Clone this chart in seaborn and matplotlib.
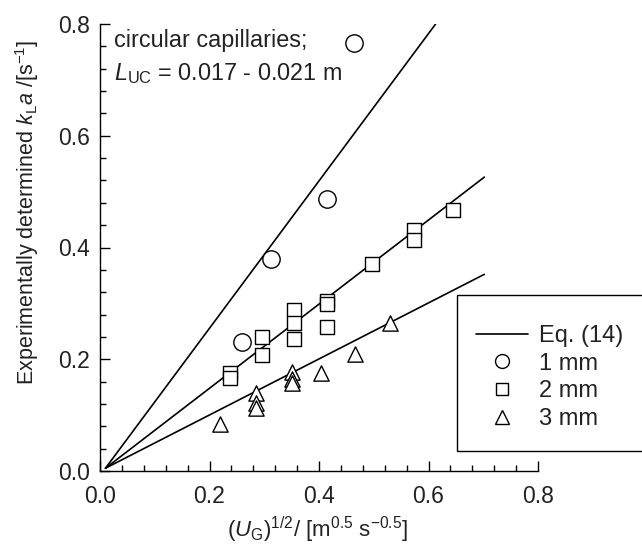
import numpy as np
import pandas as pd
import matplotlib
matplotlib.use("Agg")
import matplotlib.pyplot as plt
from matplotlib.lines import Line2D
from matplotlib.patches import Rectangle
from matplotlib.ticker import MultipleLocator
import seaborn as sns

# ---------------- data ----------------
x_1mm = [0.259, 0.312, 0.414, 0.464]
y_1mm = [0.230, 0.380, 0.487, 0.766]

x_2mm = [0.238, 0.238, 0.295, 0.295, 0.354, 0.354, 0.354, 0.415, 0.415, 0.415, 0.497, 0.573, 0.573, 0.645]
y_2mm = [0.175, 0.166, 0.240, 0.208, 0.289, 0.264, 0.237, 0.305, 0.299, 0.258, 0.371, 0.431, 0.413, 0.468]

x_3mm = [0.219, 0.285, 0.285, 0.285, 0.351, 0.351, 0.351, 0.403, 0.465, 0.529]
y_3mm = [0.084, 0.139, 0.122, 0.113, 0.178, 0.165, 0.158, 0.175, 0.209, 0.264]

# Eq. (14) lines (start / end points)
eq_1mm_x = [0.010, 0.613]
eq_1mm_y = [0.005, 0.800]
eq_2mm_x = [0.010, 0.702]
eq_2mm_y = [0.005, 0.526]
eq_3mm_x = [0.010, 0.702]
eq_3mm_y = [0.005, 0.352]

x_ticks = [0.0, 0.2, 0.4, 0.6, 0.8]
y_ticks = [0.0, 0.2, 0.4, 0.6, 0.8]
tick_labels = ["0.0", "0.2", "0.4", "0.6", "0.8"]

legend_labels = ["Eq. (14)", "1 mm", "2 mm", "3 mm"]

# ---------------- style ----------------
sns.set_style("ticks")
plt.rcParams["font.family"] = ["Liberation Sans", "DejaVu Sans"]
plt.rcParams["mathtext.fontset"] = "custom"
plt.rcParams["mathtext.rm"] = "Liberation Sans"
plt.rcParams["mathtext.it"] = "Liberation Sans:italic"
plt.rcParams["mathtext.bf"] = "Liberation Sans:bold"

TXT = "#222222"
W, H = 642, 548
fig = plt.figure(figsize=(W / 100, H / 100), dpi=100)
L, R, T, B = 100, 538, 24, 471
ax = fig.add_axes([L / W, 1 - B / H, (R - L) / W, (B - T) / H])

line_kw = dict(color="black", linewidth=1.2, ax=ax, legend=False)
for lx, ly in [(eq_1mm_x, eq_1mm_y), (eq_2mm_x, eq_2mm_y), (eq_3mm_x, eq_3mm_y)]:
    sns.lineplot(x=lx, y=ly, **line_kw)

sc_kw = dict(facecolor="white", edgecolor="black", linewidth=1.0, ax=ax, legend=False, zorder=3)
sns.scatterplot(x=x_1mm, y=y_1mm, marker="o", s=12.5 ** 2, **sc_kw)
sns.scatterplot(x=x_2mm, y=y_2mm, marker="s", s=10.3 ** 2, **sc_kw)
sns.scatterplot(x=x_3mm, y=y_3mm, marker="^", s=11.0 ** 2, **sc_kw)

ax.set_xlim(0, 0.8)
ax.set_ylim(0, 0.8)
ax.set_xticks(x_ticks)
ax.set_xticklabels(tick_labels)
ax.set_yticks(y_ticks)
ax.set_yticklabels(tick_labels)
ax.xaxis.set_minor_locator(MultipleLocator(0.04))
ax.yaxis.set_minor_locator(MultipleLocator(0.04))
ax.tick_params(which="major", direction="in", length=7.5, width=1.0, labelsize=16.5,
               color="black", labelcolor=TXT)
ax.tick_params(axis="x", which="major", pad=10)
ax.tick_params(axis="y", which="major", pad=7)
ax.tick_params(which="minor", direction="in", length=4.5, width=1.0, color="black")
for s in ["top", "right"]:
    ax.spines[s].set_visible(False)
for s in ["left", "bottom"]:
    ax.spines[s].set_linewidth(1.0)
    ax.spines[s].set_color("black")
ax.set_facecolor("white")

ax.set_xlabel(r"($U_{\mathrm{G}}$)$^{1/2}$/ [m$^{0.5}$ s$^{-0.5}$]", fontsize=16, color=TXT)
ax.xaxis.set_label_coords((318 - L) / (R - L), (B - 515) / (B - T))
ax.set_ylabel(r"Experimentally determined $k_{\mathrm{L}}a$ /[s$^{-1}$]", fontsize=15.5, color=TXT)
ax.yaxis.set_label_coords((41 - L) / (R - L), (B - 212) / (B - T))

ax.text(0.025, 0.759, "circular capillaries;", fontsize=16.8, color=TXT,
        va="baseline", ha="left")
ax.text(0.025, 0.700, r"$L_{\mathrm{UC}}$ = 0.017 - 0.021 m", fontsize=16.8,
        color=TXT, va="baseline", ha="left")

# legend box (extends past the figure edge, as in the reference)
rect = Rectangle((457 / W, 1 - 451 / H), 0.5, 156 / H, transform=fig.transFigure,
                 facecolor="white", edgecolor="black", linewidth=1.0, clip_on=False,
                 zorder=5)
fig.patches.append(rect)

handles = [
    Line2D([], [], color="black", linewidth=1.2),
    Line2D([], [], linestyle="none", marker="o", markersize=10, markerfacecolor="white",
           markeredgecolor="black", markeredgewidth=1.0),
    Line2D([], [], linestyle="none", marker="s", markersize=8.5, markerfacecolor="white",
           markeredgecolor="black", markeredgewidth=1.0),
    Line2D([], [], linestyle="none", marker="^", markersize=9.5, markerfacecolor="white",
           markeredgecolor="black", markeredgewidth=1.0),
]
leg = fig.legend(handles, legend_labels, loc="upper left",
                 bbox_to_anchor=(476 / W, 1 - 325 / H), bbox_transform=fig.transFigure,
                 frameon=False, fontsize=17, handlelength=2.2, handletextpad=0.45,
                 labelspacing=0.24, borderpad=0.0, borderaxespad=0.0)
leg.set_zorder(6)
for t in leg.get_texts():
    t.set_color(TXT)

fig.savefig("out.png", dpi=100, facecolor="white")
